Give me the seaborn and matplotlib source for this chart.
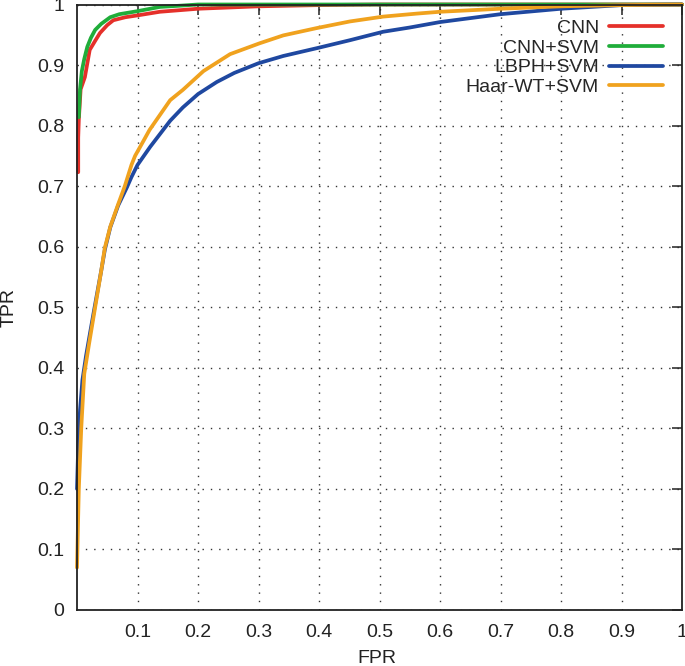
import numpy as np
import pandas as pd
import matplotlib
matplotlib.use("Agg")
import matplotlib.pyplot as plt
import seaborn as sns
from matplotlib.ticker import FormatStrFormatter

# ROC curves
cnn_fpr = [0.002, 0.002, 0.003, 0.006, 0.013, 0.021, 0.03, 0.038, 0.05, 0.06, 0.08, 0.1, 0.137, 0.2, 0.3, 0.4, 0.5, 1.0]
cnn_tpr = [0.723, 0.78, 0.81, 0.86, 0.88, 0.925, 0.94, 0.953, 0.966, 0.974, 0.979, 0.982, 0.988, 0.993, 0.997, 0.999, 1.0, 1.0]

cnnsvm_fpr = [0.003, 0.005, 0.008, 0.012, 0.017, 0.023, 0.03, 0.04, 0.055, 0.07, 0.1, 0.137, 0.17, 0.2, 1.0]
cnnsvm_tpr = [0.814, 0.86, 0.89, 0.91, 0.93, 0.945, 0.958, 0.968, 0.979, 0.984, 0.989, 0.996, 0.998, 1.0, 1.0]

lbph_fpr = [0.0, 0.002, 0.005, 0.009, 0.015, 0.022, 0.03, 0.04, 0.046, 0.055, 0.068, 0.082, 0.09, 0.1, 0.121,
            0.154, 0.175, 0.2, 0.231, 0.26, 0.3, 0.341, 0.397, 0.451, 0.506, 0.55, 0.6, 0.7, 0.8, 0.9, 1.0]
lbph_tpr = [0.2, 0.27, 0.33, 0.38, 0.42, 0.46, 0.505, 0.56, 0.595, 0.632, 0.668, 0.697, 0.715, 0.735, 0.765,
            0.808, 0.83, 0.852, 0.872, 0.887, 0.903, 0.915, 0.928, 0.941, 0.955, 0.962, 0.971, 0.984, 0.993, 0.999, 1.0]

haar_fpr = [0.0, 0.003, 0.007, 0.012, 0.02, 0.03, 0.04, 0.046, 0.055, 0.068, 0.079, 0.09, 0.096, 0.11, 0.12,
            0.154, 0.175, 0.209, 0.253, 0.302, 0.341, 0.396, 0.451, 0.506, 0.562, 0.6, 0.7, 0.8, 0.9, 1.0]
haar_tpr = [0.07, 0.2, 0.3, 0.39, 0.44, 0.5, 0.56, 0.598, 0.633, 0.67, 0.7, 0.735, 0.75, 0.775, 0.793,
            0.842, 0.859, 0.89, 0.918, 0.936, 0.949, 0.961, 0.972, 0.98, 0.985, 0.988, 0.993, 0.997, 0.999, 1.0]

names = ["CNN", "CNN+SVM", "LBPH+SVM", "Haar-WT+SVM"]
colors = ["#e5302a", "#20ad3a", "#1f48a0", "#f0a21e"]
curves = [(cnn_fpr, cnn_tpr), (cnnsvm_fpr, cnnsvm_tpr), (lbph_fpr, lbph_tpr), (haar_fpr, haar_tpr)]

sns.set_style("white")
plt.rcParams["font.family"] = ["Liberation Sans", "DejaVu Sans"]

fig = plt.figure(figsize=(6.85, 6.66), dpi=100)
ax = fig.add_axes([77 / 685, 56 / 666, 605 / 685, 605.5 / 666])

for name, col, (fx, ty) in zip(names, colors, curves):
    df = pd.DataFrame({"FPR": fx, "TPR": ty})
    sns.lineplot(data=df, x="FPR", y="TPR", ax=ax, color=col, lw=2.7, label=name,
                 estimator=None, sort=False, clip_on=False)

ax.set_xlim(0, 1)
ax.set_ylim(0, 1)
ax.set_xticks(np.round(np.arange(0.1, 1.01, 0.1), 1))
ax.set_yticks(np.round(np.arange(0, 1.01, 0.1), 1))
ax.xaxis.set_major_formatter(FormatStrFormatter("%g"))
ax.yaxis.set_major_formatter(FormatStrFormatter("%g"))
ax.tick_params(direction="in", length=7, width=1.1, color="#222222", labelsize=14,
               top=True, right=True, labelcolor="#222222")
ax.tick_params(axis="x", pad=10)
ax.tick_params(axis="y", pad=9)

for sp in ax.spines.values():
    sp.set_color("#222222")
    sp.set_linewidth(1.3)

ax.grid(True, color="#333333", linestyle=(0, (1, 5)), linewidth=1.0)

ax.set_xlabel("FPR", fontsize=14, color="#222222")
ax.set_ylabel("TPR", fontsize=14, color="#222222", va="center")
ax.xaxis.set_label_coords(0.496, -0.066)
ax.yaxis.set_label_coords(-0.113, 0.5)

ax.legend(loc="upper right", bbox_to_anchor=(0.9686, 0.975), frameon=False, markerfirst=False,
          fontsize=14, handlelength=2.8, handletextpad=0.5, labelspacing=0.1,
          borderpad=0, borderaxespad=0)

fig.savefig("out.png", dpi=100)
